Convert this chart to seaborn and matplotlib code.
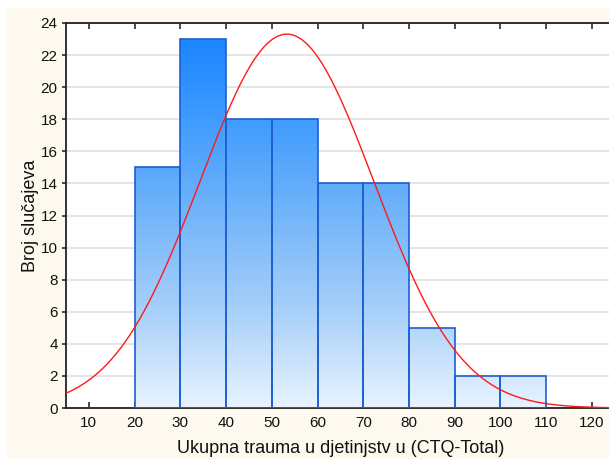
import numpy as np
import matplotlib
matplotlib.use("Agg")
import matplotlib.pyplot as plt
import seaborn as sns
from matplotlib.colors import LinearSegmentedColormap
from matplotlib.patches import Rectangle

# histogram data
bin_edges = [20, 30, 40, 50, 60, 70, 80, 90, 100, 110]
counts = [15, 23, 18, 18, 14, 14, 5, 2, 2]
# fitted normal curve parameters
fit_mean = 53.3
fit_sd = 19.0
n_total = sum(counts)
bin_width = 10

x_ticks = list(range(10, 121, 10))
y_ticks = list(range(0, 25, 2))

sns.set_theme(style="white")
plt.rcParams['font.family'] = ['Liberation Sans', 'DejaVu Sans']

fig = plt.figure(figsize=(6.09, 4.59), dpi=100)
fig.patch.set_facecolor("white")
# cream panel behind the plot
fig.add_artist(Rectangle((7 / 609, 0), 1, (459 - 8) / 459, transform=fig.transFigure,
                         facecolor="#fdf9ef", edgecolor="none", zorder=-10))

ax = fig.add_axes([66 / 609, 51 / 459, 548.8 / 609, 385 / 459])
ax.set_facecolor("white")

centers = [(a + b) / 2 for a, b in zip(bin_edges[:-1], bin_edges[1:])]
sns.histplot(x=centers, weights=counts, bins=bin_edges, ax=ax,
             facecolor="none", edgecolor="#1c5fd1", linewidth=1.2, zorder=3)

# vertical gradient fill, clipped to each bar
cmap = LinearSegmentedColormap.from_list("bars", [
    (0.0, "#e8f3ff"), (0.25, "#a8d0f9"), (0.62, "#5aa8fb"),
    (0.75, "#3f9cff"), (1.0, "#1580ff")])
grad = np.linspace(0, 1, 256).reshape(-1, 1)
for p in ax.patches:
    im = ax.imshow(grad, cmap=cmap, origin="lower", extent=(5, 125, 0, 24),
                   aspect="auto", zorder=2)
    im.set_clip_path(p)

xs = np.linspace(5, 125, 400)
ys = n_total * bin_width / (fit_sd * np.sqrt(2 * np.pi)) * np.exp(-0.5 * ((xs - fit_mean) / fit_sd) ** 2)
sns.lineplot(x=xs, y=ys, ax=ax, color="#ff1a1a", linewidth=1.0, zorder=4)

ax.set_xlim(5, 125)
ax.set_ylim(0, 24)
ax.set_xticks(x_ticks)
ax.set_yticks(y_ticks)
ax.yaxis.grid(True, color="#e0e0e0", linewidth=1.2, zorder=0)
ax.xaxis.grid(False)
ax.set_axisbelow(True)
ax.tick_params(axis="x", direction="in", top=True, bottom=True, length=4,
               labelsize=11, labelcolor="#111111", color="#333333", pad=6)
ax.tick_params(axis="y", direction="out", left=True, length=3,
               labelsize=11, labelcolor="#111111", color="#333333", pad=3)
for s in ax.spines.values():
    s.set_color("#222222")
    s.set_linewidth(1.3)

ax.set_xlabel("Ukupna trauma u djetinjstv u (CTQ-Total)", fontsize=13, labelpad=7,
              color="#111111")
ax.set_ylabel("Broj slučajeva", fontsize=13, labelpad=1, color="#111111")

fig.savefig("out.png", dpi=100)
